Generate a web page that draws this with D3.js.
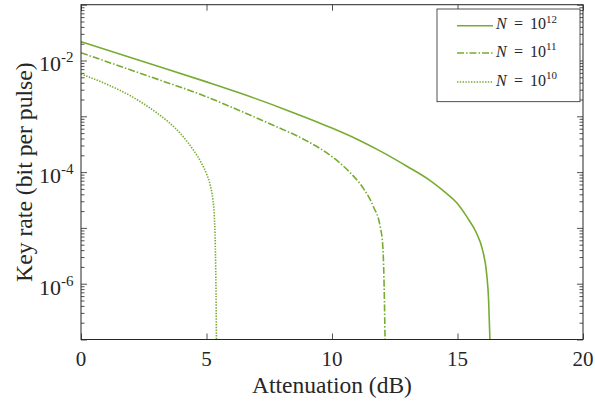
<!DOCTYPE html>
<meta charset="utf-8">
<script src="https://d3js.org/d3.v7.min.js"></script>
<style>
  body { margin: 0; background: #fff; }
  text { font-family: "Liberation Serif", "Times New Roman", serif; fill: #262626; }
</style>
<svg id="chart" width="595" height="402"></svg>
<script>

// Data (attenuation in dB, key rate in bit per pulse)
var attN12 = [0, 2.5, 5, 6.33, 8.2, 9.92, 11.0, 11.91, 13.0, 13.9, 14.5, 14.97, 15.4, 15.76, 16.0, 16.16, 16.24, 16.29, 16.33];
var rateN12 = [2.17e-2, 9.5e-3, 4.14e-3, 2.61e-3, 1.29e-3, 6.38e-4, 3.89e-4, 2.4e-4, 1.26e-4, 7.1e-5, 4.37e-5, 2.82e-5, 1.51e-5, 8.0e-6, 4.0e-6, 1.53e-6, 5.0e-7, 1.05e-7, 2.5e-8];

var attN11 = [0, 2.5, 5, 6.33, 7.66, 8.99, 10.05, 10.72, 11.25, 11.65, 11.92, 12.02, 12.07, 12.1, 12.13];
var rateN11 = [1.38e-2, 5.6e-3, 2.24e-3, 1.26e-3, 6.9e-4, 3.63e-4, 1.82e-4, 9.8e-5, 5.1e-5, 2.4e-5, 1.05e-5, 5.0e-6, 1.26e-6, 2.5e-7, 3.2e-8];

var attN10 = [0, 1, 2, 3, 3.5, 4, 4.5, 4.8, 5.0, 5.15, 5.25, 5.31, 5.35, 5.38, 5.40];
var rateN10 = [5.73e-3, 3.8e-3, 2.29e-3, 1.17e-3, 7.8e-4, 4.7e-4, 2.4e-4, 1.45e-4, 9.3e-5, 5.8e-5, 3.3e-5, 1.66e-5, 5.0e-6, 6.3e-7, 5.0e-8];

var seriesNames = ["12", "11", "10"];   // exponent of N
var xTicks = [0, 5, 10, 15, 20];
var yTicks = [1e-2, 1e-4, 1e-6];
var yTickExp = ["-2", "-4", "-6"];

var color = "#77AC30";
var axisColor = "#262626";

var svg = d3.select("#chart");
var margin = {left: 81, top: 4.7, right: 12, bottom: 62.5};
var width = 595 - margin.left - margin.right,
    height = 402 - margin.top - margin.bottom;

var g = svg.append("g").attr("transform", "translate(" + margin.left + "," + margin.top + ")");

var x = d3.scaleLinear().domain([0, 20]).range([0, width]);
var y = d3.scaleLog().domain([1e-7, 1e-1]).range([height, 0]);

// minor ticks for the log axis
var minor = [];
[1e-7, 1e-6, 1e-5, 1e-4, 1e-3, 1e-2].forEach(function(d) {
  for (var k = 2; k <= 9; k++) minor.push(d * k);
});
var majorY = [1e-7, 1e-6, 1e-5, 1e-4, 1e-3, 1e-2, 1e-1];

function styleAxis(sel) {
  sel.select(".domain").remove();
  sel.selectAll("line").attr("stroke", axisColor).attr("stroke-width", 0.8);
  sel.selectAll("text").remove();
}

g.append("g").attr("transform", "translate(0," + height + ")")
  .call(d3.axisBottom(x).tickValues(xTicks).tickSizeInner(-6).tickSizeOuter(0))
  .call(styleAxis);
g.append("g")
  .call(d3.axisTop(x).tickValues(xTicks).tickSizeInner(-6).tickSizeOuter(0))
  .call(styleAxis);
g.append("g")
  .call(d3.axisLeft(y).tickValues(majorY).tickSizeInner(-6).tickSizeOuter(0))
  .call(styleAxis);
g.append("g")
  .call(d3.axisLeft(y).tickValues(minor).tickSizeInner(-3.5).tickSizeOuter(0))
  .call(styleAxis);
g.append("g").attr("transform", "translate(" + width + ",0)")
  .call(d3.axisRight(y).tickValues(majorY).tickSizeInner(-6).tickSizeOuter(0))
  .call(styleAxis);
g.append("g").attr("transform", "translate(" + width + ",0)")
  .call(d3.axisRight(y).tickValues(minor).tickSizeInner(-3.5).tickSizeOuter(0))
  .call(styleAxis);

// tick labels
g.selectAll(".xlab").data(xTicks).enter().append("text")
  .attr("x", function(d) { return x(d); })
  .attr("y", height + 27)
  .attr("text-anchor", "middle")
  .style("font-size", "21px")
  .text(function(d) { return d; });

var ylab = g.selectAll(".ylab").data(yTicks).enter().append("text")
  .attr("x", -7.5)
  .attr("y", function(d) { return y(d) + 11; })
  .attr("text-anchor", "end")
  .style("font-size", "22px");
ylab.append("tspan").text("10");
ylab.append("tspan")
  .attr("dy", -9)
  .style("font-size", "15px")
  .text(function(d, i) { return yTickExp[i]; });

// axis labels
svg.append("text")
  .attr("x", margin.left + width / 2)
  .attr("y", 392.7)
  .attr("text-anchor", "middle")
  .style("font-size", "23.5px")
  .text("Attenuation (dB)");

svg.append("text")
  .attr("transform", "translate(31.7," + (margin.top + height / 2) + ") rotate(-90)")
  .attr("text-anchor", "middle")
  .style("font-size", "23.7px")
  .text("Key rate (bit per pulse)");

// curves
g.append("clipPath").attr("id", "clip")
  .append("rect").attr("width", width).attr("height", height);

var line = d3.line()
  .x(function(d) { return x(d[0]); })
  .y(function(d) { return y(d[1]); })
  .curve(d3.curveMonotoneX);

var dashes = [null, "7,2,1.5,2", "1.4,1.4"];
var series = [d3.zip(attN12, rateN12), d3.zip(attN11, rateN11), d3.zip(attN10, rateN10)];

g.append("g").attr("clip-path", "url(#clip)")
  .selectAll("path")
  .data(series)
  .enter()
  .append("path")
    .attr("d", line)
    .attr("fill", "none")
    .attr("stroke", color)
    .attr("stroke-width", 1.6)
    .attr("stroke-dasharray", function(d, i) { return dashes[i]; });

// box
g.append("rect")
  .attr("width", width).attr("height", height)
  .attr("fill", "none").attr("stroke", axisColor).attr("stroke-width", 1);

// legend
var legend = svg.append("g");
legend.append("rect")
  .attr("x", 437).attr("y", 9).attr("width", 143).attr("height", 92.7)
  .attr("fill", "#fff").attr("stroke", axisColor).attr("stroke-width", 0.8);

var legY = [25.7, 53, 82];
var items = legend.selectAll(".item").data(seriesNames).enter().append("g")
  .attr("transform", function(d, i) { return "translate(0," + legY[i] + ")"; });
items.append("line")
  .attr("x1", 457).attr("x2", 493)
  .attr("stroke", color).attr("stroke-width", 1.6)
  .attr("stroke-dasharray", function(d, i) { return dashes[i]; });
var lt = items.append("text").attr("y", 3.5).style("font-size", "16px");
lt.append("tspan").attr("x", 496).style("font-style", "italic").text("N");
lt.append("tspan").attr("x", 514).text("=");
lt.append("tspan").attr("x", 530).text("10");
lt.append("tspan").attr("dy", -6.5).style("font-size", "11px").text(function(d) { return d; });

</script>
